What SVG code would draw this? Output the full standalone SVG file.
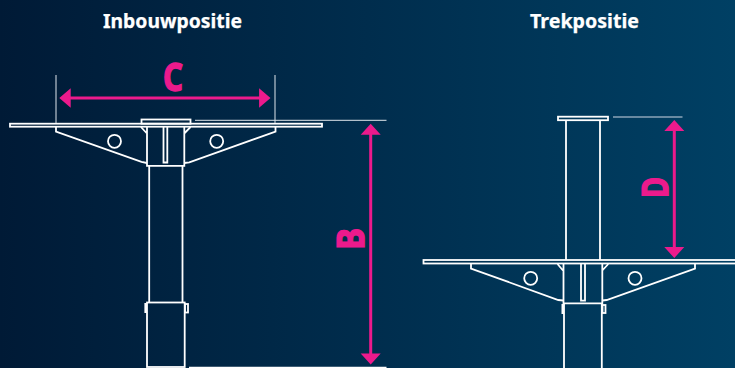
<svg xmlns="http://www.w3.org/2000/svg" width="735" height="368" viewBox="0 0 735 368">
<style>
.l{fill:none;stroke:#fff;stroke-width:1.8;stroke-linejoin:miter}
.g{fill:none;stroke:#dfe6ec;stroke-width:1}
.a{stroke:#ec1a8c;stroke-width:3;fill:none}
.h{fill:#ec1a8c;stroke:none}
.t{font-family:"Noto Sans","Liberation Sans",sans-serif;font-weight:700;font-size:20px;fill:#fff;stroke:#fff;stroke-width:.25}
.m{font-family:"Noto Sans","Liberation Sans",sans-serif;font-weight:700;fill:#ec1a8c;stroke:#ec1a8c;stroke-width:1.4}
</style>
<defs><linearGradient id="bg" x1="0" y1="0" x2="1" y2="0"><stop offset="0" stop-color="#001a36"/><stop offset="1" stop-color="#004064"/></linearGradient></defs>
<rect width="735" height="368" fill="url(#bg)"/>
<text class="t" x="172.500" y="28" text-anchor="middle" textLength="139" lengthAdjust="spacingAndGlyphs">Inbouwpositie</text>
<text class="t" x="584.500" y="28" text-anchor="middle" textLength="109" lengthAdjust="spacingAndGlyphs">Trekpositie</text>
<g id="inbouw">
<rect class="l" x="10" y="123.700" width="312" height="3"/>
<rect class="l" x="141.500" y="119.500" width="49" height="4.200"/>
<path class="l" d="M147 127V165.800H184.300V127M163.500 127V162.500H167.300V127M141 127L146.500 133M190.500 127L184.700 133"/>
<path class="l" d="M56 127V131.500L141.500 161.800L147 163M275.500 127V131.500L189.300 162.300L184.300 163"/>
<circle class="l" cx="114.500" cy="141.300" r="6.500"/>
<circle class="l" cx="216.700" cy="141.300" r="6.500"/>
<path class="l" d="M149.200 166V302M182.500 166V302"/>
<rect class="l" x="147" y="302.500" width="37.700" height="64.500"/>
<rect x="144.400" y="303" width="2.600" height="10" fill="#fff"/>
<rect class="l" x="185" y="304" width="3" height="8.500"/>
</g>
<g id="trek">
<rect class="l" x="423.500" y="260" width="320" height="3.500"/>
<rect class="l" x="558" y="116.700" width="50" height="3.500"/>
<path class="l" d="M566 120.500V260M600 120.500V260"/>
<path class="l" d="M563.500 264V303.300H602.300V264M581 264V300.700H585V264M557.500 264L563 270.500M608.300 264L602.300 270.500"/>
<path class="l" d="M471 264V268.500L558.300 300L563.500 300.500M695 264V268.500L606.700 300L602.300 300.500"/>
<circle class="l" cx="530.700" cy="278.300" r="6.500"/>
<circle class="l" cx="635" cy="278.300" r="6.500"/>
<path class="l" d="M564 303.500V368M601.800 303.500V368"/>
<rect x="561.500" y="304" width="2.600" height="10" fill="#fff"/>
<rect class="l" x="602.500" y="305" width="3" height="8"/>
</g>
<g id="connectors">
<path class="g" d="M56 75V123M275 75V123M195 120.300H386.500"/>
<path d="M189 367.500H386.500" stroke="#fff" stroke-width="1.500"/>
<path d="M613 117H682.500" stroke="#8ba5b8" stroke-width="1.500"/>
<path class="a" d="M68 98H262M370.700 132V356M674.300 129V249"/>
<path class="h" d="M59.300 98L70.700 88.300V107.700ZM270.500 98L259.100 88.300V107.700ZM370.700 123.700L360.700 134.700H380.700ZM370.700 364.500L360.700 353.500H380.700ZM674.300 120L664.300 131H684.300ZM674.300 258L664.300 247H684.300Z"/>
</g>
<text class="m" font-size="40" text-anchor="middle" transform="translate(173 91) scale(.78 1)">C</text>
<text class="m" font-size="37" text-anchor="middle" transform="translate(364 239) rotate(-90) scale(.88 1)">B</text>
<text class="m" font-size="36" text-anchor="middle" transform="translate(667.500 187.500) rotate(-90) scale(.8 1)">D</text>
</svg>
